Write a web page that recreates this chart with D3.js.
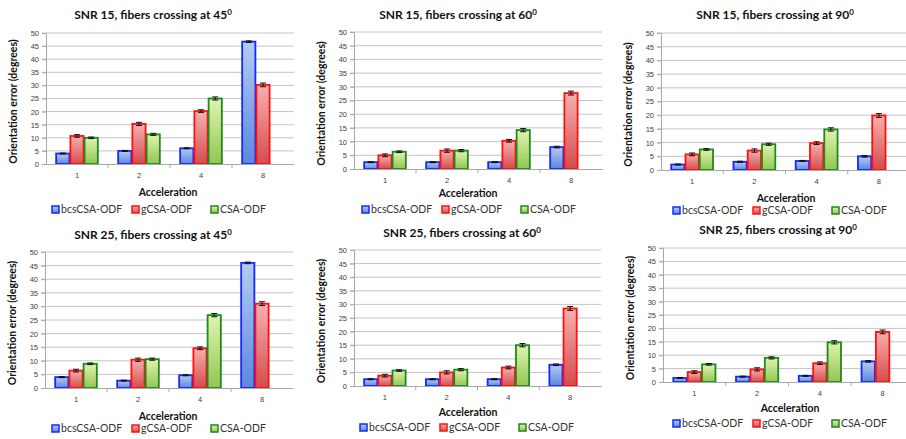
<!DOCTYPE html>
<html>
<head>
<meta charset="utf-8">
<script src="https://cdn.jsdelivr.net/npm/d3@7"></script>
<style>
  body { margin: 0; background: #fff; }
  svg { display: block; font-family: Lato, "Open Sans", sans-serif; }
</style>
</head>
<body>
<svg id="chart" width="906" height="439"></svg>
<script>
// categories + series
var accel = ["1", "2", "4", "8"]
var methods = ["bcsCSA-ODF", "gCSA-ODF", "CSA-ODF"]
var yTicks = [0, 5, 10, 15, 20, 25, 30, 35, 40, 45, 50]

// SNR 15
var bcs_15_45 = [4, 5, 6, 46.7]
var g_15_45   = [10.7, 15.3, 20.2, 30.2]
var csa_15_45 = [10, 11.3, 25, null]
var bcs_15_60 = [2.5, 2.5, 2.5, 8]
var g_15_60   = [5, 6.7, 10.3, 27.7]
var csa_15_60 = [6.3, 6.7, 14.2, null]
var bcs_15_90 = [2, 3, 3.3, 5]
var g_15_90   = [5.7, 7.1, 9.8, 19.9]
var csa_15_90 = [7.5, 9.4, 14.8, null]
// SNR 25
var bcs_25_45 = [4, 2.7, 4.7, 46]
var g_25_45   = [6.4, 10.4, 14.6, 31]
var csa_25_45 = [8.9, 10.6, 26.8, null]
var bcs_25_60 = [2.5, 2.5, 2.5, 7.8]
var g_25_60   = [3.8, 5, 6.8, 28.5]
var csa_25_60 = [5.7, 6, 15, null]
var bcs_25_90 = [1.5, 2, 2.3, 7.7]
var g_25_90   = [3.7, 4.7, 7, 18.7]
var csa_25_90 = [6.6, 9, 14.8, null]

// error bar half-widths (small, mostly the same)
var errBcs = [0.2, 0.2, 0.2, 0.3]
var errG   = [0.5, 0.6, 0.5, 0.7]
var errCsa = [0.3, 0.4, 0.6, null]

var titles = [
  ["SNR 15, fibers crossing at 45", bcs_15_45, g_15_45, csa_15_45],
  ["SNR 15, fibers crossing at 60", bcs_15_60, g_15_60, csa_15_60],
  ["SNR 15, fibers crossing at 90", bcs_15_90, g_15_90, csa_15_90],
  ["SNR 25, fibers crossing at 45", bcs_25_45, g_25_45, csa_25_45],
  ["SNR 25, fibers crossing at 60", bcs_25_60, g_25_60, csa_25_60],
  ["SNR 25, fibers crossing at 90", bcs_25_90, g_25_90, csa_25_90]
]

// panel frames (plot area), title / axis label / legend positions
var frames = [
  {l: 46,  r: 294, t: 33,  b: 164, tx: 153, ty: 19,  ax: 168, ay: 196, ly: 213, lx: 52},
  {l: 354, r: 602, t: 32,  b: 169, tx: 458, ty: 19,  ax: 468, ay: 197, ly: 213, lx: 362},
  {l: 661, r: 910, t: 33,  b: 170, tx: 775, ty: 19,  ax: 786, ay: 202, ly: 214, lx: 673},
  {l: 45,  r: 293, t: 252, b: 388, tx: 153, ty: 239, ax: 168, ay: 420, ly: 432, lx: 52},
  {l: 354, r: 601, t: 250, b: 386, tx: 462, ty: 237, ax: 468, ay: 416, ly: 431, lx: 360},
  {l: 663, r: 914, t: 248, b: 382, tx: 778, ty: 234, ax: 790, ay: 412, ly: 427, lx: 673}
]

var fills = [["#b4ccf4", "#5a88dc"], ["#f8b0b0", "#d44c4c"], ["#e0f4b0", "#92c652"]]
var strokes = ["#1428ff", "#ff1010", "#20881c"]

var svg = d3.select("#chart")
var defs = svg.append("defs")
fills.forEach((f, i) => {
  var gr = defs.append("linearGradient").attr("id", "grad" + i)
    .attr("x1", 0).attr("y1", 0).attr("x2", 0).attr("y2", 1)
  gr.append("stop").attr("offset", "0%").attr("stop-color", f[0])
  gr.append("stop").attr("offset", "100%").attr("stop-color", f[1])
})

titles.forEach((p, k) => {
  var f = frames[k]
  var series = [p[1], p[2], p[3]]
  var errs = [errBcs, errG, errCsa]
  var g = svg.append("g")

  var x0 = d3.scaleBand().domain(accel).range([f.l, f.r])
  var x1 = d3.scaleBand().domain(methods).range([0, x0.bandwidth()]).paddingOuter(0.68)
  var y = d3.scaleLinear().domain([0, 50]).range([f.b, f.t])

  // gridlines
  g.append("g").selectAll("line").data(yTicks.slice(1)).join("line")
    .attr("x1", f.l - 4).attr("x2", f.r)
    .attr("y1", d => y(d)).attr("y2", d => y(d))
    .attr("stroke", "#c4c4c4").attr("stroke-width", 1)

  // y axis
  var ya = g.append("g").attr("transform", `translate(${f.l},0)`)
    .call(d3.axisLeft(y).tickValues(yTicks).tickSize(4).tickPadding(3))
  ya.select(".domain").attr("stroke", "#a8a8a8")
  ya.selectAll(".tick line").attr("stroke", "#a8a8a8")
  ya.selectAll("text").attr("font-size", 7.5).attr("fill", "#404040")

  // bars
  series.forEach((vals, si) => {
    var data = accel.map((a, i) => ({a: a, v: vals[i], e: errs[si][i]})).filter(d => d.v != null)
    g.append("g").selectAll("rect").data(data).join("rect")
      .attr("x", d => x0(d.a) + x1(methods[si]) + 0.5)
      .attr("y", d => y(d.v))
      .attr("width", x1.bandwidth() - 1)
      .attr("height", d => y(0) - y(d.v))
      .attr("fill", `url(#grad${si})`)
      .attr("stroke", strokes[si]).attr("stroke-width", 1.8)
    // error bars
    var eb = g.append("g").attr("stroke", "#111").attr("stroke-width", 1)
    data.forEach(d => {
      var cx = x0(d.a) + x1(methods[si]) + x1.bandwidth() / 2
      eb.append("line").attr("x1", cx).attr("x2", cx).attr("y1", y(d.v + d.e)).attr("y2", y(d.v - d.e))
      eb.append("line").attr("x1", cx - 3).attr("x2", cx + 3).attr("y1", y(d.v + d.e)).attr("y2", y(d.v + d.e))
      eb.append("line").attr("x1", cx - 3).attr("x2", cx + 3).attr("y1", y(d.v - d.e)).attr("y2", y(d.v - d.e))
    })
  })

  // x axis
  var xa = g.append("g").attr("transform", `translate(0,${f.b})`)
    .call(d3.axisBottom(x0).tickSize(0).tickPadding(9))
  xa.select(".domain").attr("stroke", "#a8a8a8")
  xa.selectAll("text").attr("font-size", 7.5).attr("fill", "#404040")
  g.append("g").selectAll("line").data(accel.slice(1)).join("line")
    .attr("x1", d => x0(d)).attr("x2", d => x0(d))
    .attr("y1", f.b).attr("y2", f.b + 4).attr("stroke", "#a8a8a8")

  // title
  var t = g.append("text").attr("x", f.tx).attr("y", f.ty).attr("text-anchor", "middle")
    .attr("font-size", 12).attr("font-weight", "bold").attr("fill", "#111").text(p[0])
  t.append("tspan").attr("dy", -4).attr("font-size", 8).text("0")

  // axis titles
  g.append("text").attr("x", f.ax).attr("y", f.ay).attr("text-anchor", "middle")
    .attr("font-size", 10.5).attr("font-weight", "bold").attr("fill", "#111").text("Acceleration")
  g.append("text")
    .attr("transform", `translate(${f.l - 29},${(f.t + f.b) / 2 + 3}) rotate(-90)`)
    .attr("text-anchor", "middle")
    .attr("font-size", 10.5).attr("font-weight", "bold").attr("fill", "#111")
    .text("Orientation error (degrees)")

  // legend
  var lg = g.append("g").attr("transform", `translate(${f.lx},${f.ly})`)
  var offs = [0, 80, 159]
  methods.forEach((m, i) => {
    lg.append("rect").attr("x", offs[i]).attr("y", -7).attr("width", 7).attr("height", 7)
      .attr("fill", `url(#grad${i})`).attr("stroke", strokes[i]).attr("stroke-width", 1.5)
    lg.append("text").attr("x", offs[i] + 9).attr("y", 0)
      .attr("font-size", 10.5).attr("fill", "#333").text(m)
  })
})
</script>
</body>
</html>
